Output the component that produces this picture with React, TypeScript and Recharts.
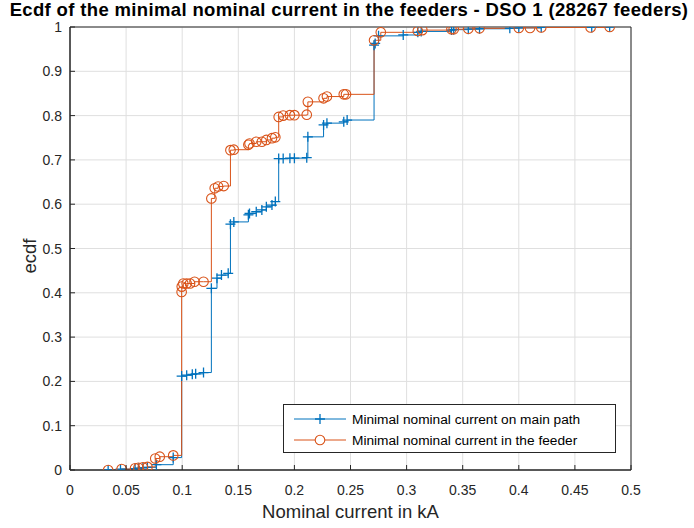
import { LineChart, Line, XAxis, YAxis, CartesianGrid, ReferenceArea } from 'recharts'

const X_TICKS = [0, 0.05, 0.1, 0.15, 0.2, 0.25, 0.3, 0.35, 0.4, 0.45, 0.5]
const Y_TICKS = [0, 0.1, 0.2, 0.3, 0.4, 0.5, 0.6, 0.7, 0.8, 0.9, 1]

// minimal nominal current on main path (kA) and its ecdf
const MAIN_PATH_KA = [
  0.034, 0.045, 0.058, 0.061, 0.065, 0.069, 0.077, 0.092, 0.0995, 0.104, 0.109, 0.112, 0.119,
  0.126, 0.131, 0.135, 0.141, 0.143, 0.146, 0.159, 0.16, 0.166, 0.171, 0.175, 0.18, 0.183,
  0.186, 0.19, 0.196, 0.2, 0.211, 0.212, 0.226, 0.229, 0.244, 0.247, 0.271, 0.272, 0.275,
  0.297, 0.31, 0.313, 0.34, 0.342, 0.355, 0.365, 0.392, 0.4, 0.42, 0.465, 0.481,
]
const MAIN_PATH_ECDF = [
  0, 0.002, 0.003, 0.004, 0.005, 0.006, 0.012, 0.028, 0.212, 0.214, 0.216, 0.217, 0.22,
  0.41, 0.433, 0.44, 0.444, 0.555, 0.56, 0.576, 0.579, 0.583, 0.587, 0.594, 0.598, 0.606,
  0.703, 0.703, 0.704, 0.704, 0.705, 0.752, 0.779, 0.783, 0.786, 0.79, 0.959, 0.963, 0.98,
  0.982, 0.988, 0.99, 0.993, 0.994, 0.995, 0.996, 0.997, 0.998, 0.999, 0.999, 1,
]

// minimal nominal current in the feeder (kA) and its ecdf
const FEEDER_KA = [
  0.034, 0.046, 0.058, 0.061, 0.065, 0.069, 0.076, 0.08, 0.092, 0.0995, 0.0996, 0.101, 0.104,
  0.107, 0.111, 0.119, 0.126, 0.129, 0.132, 0.137, 0.143, 0.146, 0.159, 0.16, 0.166, 0.171,
  0.175, 0.18, 0.183, 0.186, 0.19, 0.196, 0.2, 0.211, 0.212, 0.226, 0.229, 0.244, 0.246,
  0.271, 0.277, 0.31, 0.314, 0.34, 0.342, 0.355, 0.365, 0.4, 0.41, 0.42, 0.464, 0.481,
]
const FEEDER_ECDF = [
  0, 0.002, 0.004, 0.005, 0.006, 0.007, 0.026, 0.03, 0.033, 0.402, 0.414, 0.421, 0.421,
  0.421, 0.425, 0.425, 0.613, 0.636, 0.64, 0.641, 0.722, 0.723, 0.734, 0.737, 0.741, 0.741,
  0.745, 0.749, 0.751, 0.797, 0.8, 0.801, 0.801, 0.802, 0.831, 0.839, 0.843, 0.848, 0.848,
  0.97, 0.988, 0.991, 0.993, 0.995, 0.995, 0.996, 0.997, 0.998, 0.998, 0.999, 0.999, 1,
]

const mainPath = MAIN_PATH_KA.map((ka, i) => ({ ka, ecdf: MAIN_PATH_ECDF[i] }))
const feeder = FEEDER_KA.map((ka, i) => ({ ka, ecdf: FEEDER_ECDF[i] }))

const AXIS = '#262626'
const BLUE = '#0072BD'
const ORANGE = '#D95319'
const FONT = '"Liberation Sans", Arial, Helvetica, sans-serif'

const PlusDot = (p: any) => (
  <path
    key={`p${p.index}`}
    d={`M${p.cx - 5},${p.cy}H${p.cx + 5}M${p.cx},${p.cy - 5}V${p.cy + 5}`}
    stroke={BLUE}
    strokeWidth={1.3}
    fill="none"
  />
)

const CircleDot = (p: any) => (
  <circle key={`c${p.index}`} cx={p.cx} cy={p.cy} r={4.8} stroke={ORANGE} strokeWidth={1.1} fill="none" />
)

const BottomTick = (p: any) => (
  <g>
    <line x1={p.x} x2={p.x} y1={p.y} y2={p.y - 5} stroke={AXIS} />
    <text x={p.x} y={p.y + 25} textAnchor="middle" fill={AXIS} fontSize={14} fontFamily={FONT}>
      {String(p.payload.value)}
    </text>
  </g>
)

const LeftTick = (p: any) => (
  <g>
    <line x1={p.x} x2={p.x + 5} y1={p.y} y2={p.y} stroke={AXIS} />
    <text x={p.x - 8} y={p.y + 5} textAnchor="end" fill={AXIS} fontSize={14} fontFamily={FONT}>
      {String(p.payload.value)}
    </text>
  </g>
)

const TopTick = (p: any) => <line x1={p.x} x2={p.x} y1={p.y} y2={p.y + 5} stroke={AXIS} />
const RightTick = (p: any) => <line x1={p.x} x2={p.x - 5} y1={p.y} y2={p.y} stroke={AXIS} />

export default function App() {
  return (
    <div style={{ position: 'absolute', left: 0, top: 0, width: 694, height: 528, background: '#fff', fontFamily: FONT }}>
      <LineChart width={694} height={528} margin={{ top: 27, right: 63, bottom: 28, left: 0 }}>
        <CartesianGrid stroke="#dfdfdf" horizontalValues={Y_TICKS} verticalValues={X_TICKS} />
        <XAxis
          dataKey="ka"
          type="number"
          domain={[0, 0.5]}
          ticks={X_TICKS}
          allowDataOverflow
          height={30}
          tickSize={0}
          tickMargin={0}
          tickLine={false}
          axisLine={{ stroke: AXIS }}
          tick={BottomTick}
          interval={0}
        />
        <XAxis
          xAxisId="top"
          orientation="top"
          type="number"
          domain={[0, 0.5]}
          ticks={X_TICKS}
          allowDataOverflow
          height={0}
          tickSize={0}
          tickMargin={0}
          tickLine={false}
          axisLine={{ stroke: AXIS }}
          tick={TopTick}
          interval={0}
        />
        <YAxis
          type="number"
          domain={[0, 1]}
          ticks={Y_TICKS}
          allowDataOverflow
          width={70}
          tickSize={0}
          tickMargin={0}
          tickLine={false}
          axisLine={{ stroke: AXIS }}
          tick={LeftTick}
          interval={0}
        />
        <YAxis
          yAxisId="right"
          orientation="right"
          type="number"
          domain={[0, 1]}
          ticks={Y_TICKS}
          allowDataOverflow
          width={0}
          tickSize={0}
          tickMargin={0}
          tickLine={false}
          axisLine={{ stroke: AXIS }}
          tick={RightTick}
          interval={0}
        />
        <ReferenceArea x1={0} x2={0.5} y1={0} y2={1} fill="none" stroke={AXIS} strokeOpacity={1} fillOpacity={0} />
        <Line
          data={mainPath}
          dataKey="ecdf"
          type="stepAfter"
          stroke={BLUE}
          strokeWidth={1}
          dot={PlusDot}
          activeDot={false}
          isAnimationActive={false}
        />
        <Line
          data={feeder}
          dataKey="ecdf"
          type="stepAfter"
          stroke={ORANGE}
          strokeWidth={1}
          dot={CircleDot}
          activeDot={false}
          isAnimationActive={false}
        />
      </LineChart>

      <div
        style={{
          position: 'absolute', left: 0, width: 698, top: 1, height: 18, lineHeight: '18px', textAlign: 'center',
          fontWeight: 'bold', fontSize: 18.5, letterSpacing: 0.35, color: '#000', whiteSpace: 'nowrap',
        }}
      >
        Ecdf of the minimal nominal current in the feeders - DSO 1 (28267 feeders)
      </div>
      <div style={{ position: 'absolute', left: 70, width: 561, top: 501, textAlign: 'center', fontSize: 18.5, color: AXIS }}>
        Nominal current in kA
      </div>
      <div
        style={{
          position: 'absolute', left: 30, top: 256, fontSize: 18.5, color: AXIS,
          transform: 'translate(-50%, -50%) rotate(-90deg)', whiteSpace: 'nowrap',
        }}
      >
        ecdf
      </div>

      <div
        style={{
          position: 'absolute', left: 283, top: 404, width: 331, height: 47, background: '#fff',
          border: `1px solid ${AXIS}`, fontSize: 13.7, color: '#000',
        }}
      >
        {[
          { name: 'Minimal nominal current on main path', color: BLUE, plus: true },
          { name: 'Minimal nominal current in the feeder', color: ORANGE, plus: false },
        ].map((s, i) => (
          <div key={s.name} style={{ position: 'absolute', left: 0, top: 4 + i * 21, height: 20, display: 'flex', alignItems: 'center' }}>
            <svg width={68} height={20} style={{ display: 'block' }}>
              <line x1={10} x2={62} y1={10} y2={10} stroke={s.color} strokeWidth={1} />
              {s.plus ? (
                <path d="M31,10H41M36,5V15" stroke={s.color} strokeWidth={1.3} />
              ) : (
                <circle cx={36} cy={10} r={4.8} stroke={s.color} strokeWidth={1.1} fill="#fff" />
              )}
            </svg>
            <span style={{ whiteSpace: 'nowrap' }}>{s.name}</span>
          </div>
        ))}
      </div>
    </div>
  )
}
